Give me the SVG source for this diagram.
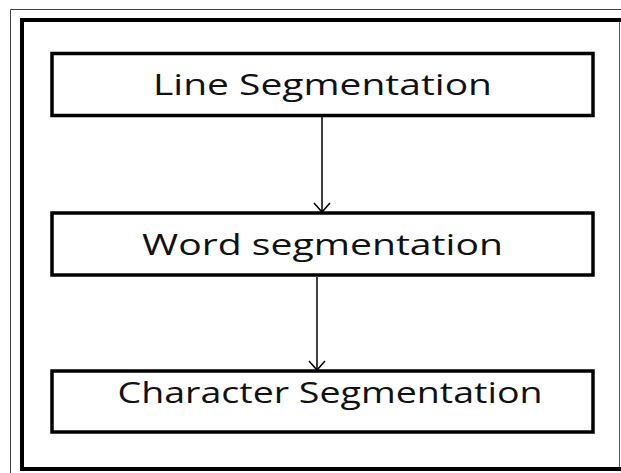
<svg xmlns="http://www.w3.org/2000/svg" width="621" height="473" viewBox="0 0 621 473">
  <style>
    .frame { fill: none; stroke: #000; stroke-width: 4; }
    .outer { fill: none; stroke: #444; stroke-width: 1; }
    .box { fill: #fff; stroke: #000; stroke-width: 3.5; }
    .label { font-family: "Open Sans", "Liberation Sans", sans-serif; font-size: 29px; fill: #111; text-anchor: middle; }
    .conn { stroke: #000; stroke-width: 1.5; fill: none; }
  </style>
  <rect width="621" height="473" fill="#fff"/>
  <!-- page borders -->
  <path class="outer" d="M10.5,473 L10.5,9.5 L621,9.5"/>
  <path class="frame" d="M623,20 L22,20 L22,469 L623,469"/>
  <line x1="619.5" y1="22" x2="619.5" y2="467" stroke="#555" stroke-width="1"/>

  <g id="line-segmentation">
    <rect class="box" x="52" y="53.5" width="541" height="62"/>
    <text class="label" x="322.5" y="95" textLength="339" lengthAdjust="spacingAndGlyphs">Line Segmentation</text>
  </g>
  <g id="word-segmentation">
    <rect class="box" x="52" y="213" width="541" height="62"/>
    <text class="label" x="322.5" y="255" textLength="361" lengthAdjust="spacingAndGlyphs">Word segmentation</text>
  </g>
  <g id="character-segmentation">
    <rect class="box" x="52" y="371" width="541" height="61"/>
    <text class="label" x="330" y="403" textLength="425" lengthAdjust="spacingAndGlyphs">Character Segmentation</text>
  </g>

  <!-- downward arrows with open heads -->
  <g id="connectors">
    <line class="conn" x1="322" y1="117" x2="322" y2="212"/>
    <polyline class="conn" points="314,203 322,212 330,203"/>
    <line class="conn" x1="317" y1="277" x2="317" y2="370"/>
    <polyline class="conn" points="309,361 317,370 325,361"/>
  </g>
</svg>
